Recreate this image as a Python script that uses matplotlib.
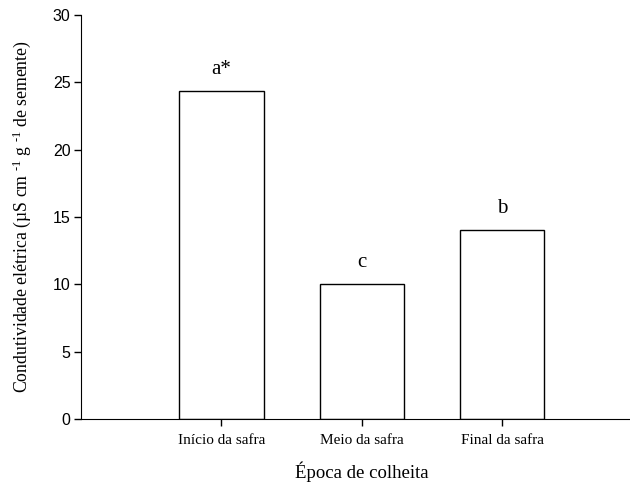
import matplotlib
matplotlib.use("Agg")
import matplotlib.pyplot as plt

categories = ["Início da safra", "Meio da safra", "Final da safra"]
values = [24.35, 10.0, 14.0]
letters = ["a*", "c", "b"]
yticks = [0, 5, 10, 15, 20, 25, 30]

plt.rcParams['mathtext.fontset'] = 'custom'
plt.rcParams['mathtext.rm'] = 'Liberation Serif'
plt.rcParams['mathtext.it'] = 'Liberation Serif:italic'

fig = plt.figure(figsize=(6.3, 4.88), dpi=100)
ax = fig.add_axes([81/630, 69/488, 1 - 81/630 + 0.02, (419-15)/488])

x = list(range(len(categories)))
ax.bar(x, values, width=0.6, color='white', edgecolor='black', linewidth=1.0)
for xi, v, l in zip(x, values, letters):
    ax.text(xi, v + 0.9, l, ha='center', va='bottom', family='Liberation Serif', fontsize=15)

ax.set_xlim(-1, 3.0)
ax.set_ylim(0, 30)
ax.set_yticks(yticks)
ax.set_yticklabels([str(t) for t in yticks], family='Liberation Sans', fontsize=11.5)
ax.set_xticks(x)
ax.set_xticklabels(categories, family='Liberation Serif', fontsize=11)
ax.tick_params(axis='both', direction='out', length=5, width=1)
ax.tick_params(axis='x', pad=6)
ax.tick_params(axis='y', pad=2.5)
ax.spines['top'].set_visible(False)
ax.spines['right'].set_visible(False)

ax.set_xlabel("Época de colheita", family='Liberation Serif', fontsize=13.5, labelpad=10)
ax.set_ylabel(r"Condutividade elétrica (µS cm $^{\text{-1}}$ g $^{\text{-1}}$ de semente)",
              family='Liberation Serif', fontsize=12.8, labelpad=14)

fig.savefig("out.png", dpi=100)
